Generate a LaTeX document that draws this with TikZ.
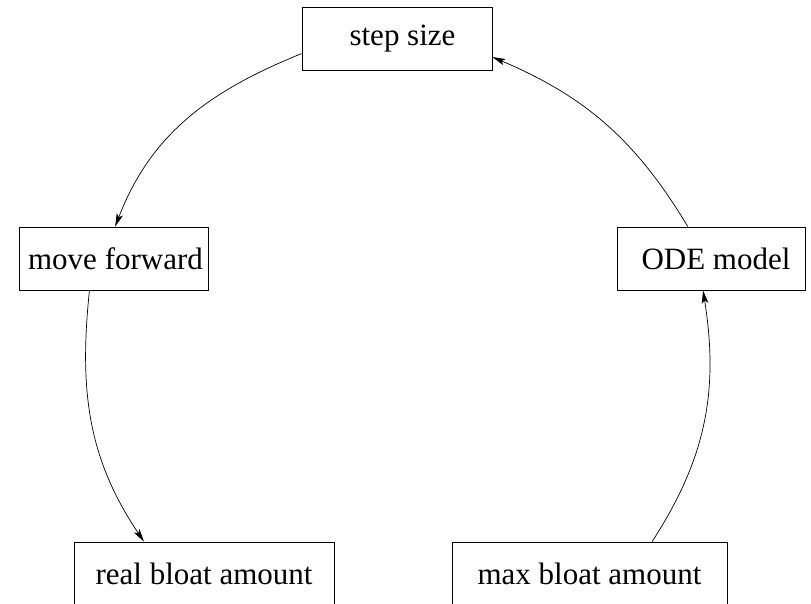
\documentclass[tikz,border=0pt]{standalone}
\usepackage{fontspec}
\setmainfont{Liberation Serif}
\usetikzlibrary{arrows.meta}
\begin{document}
\begin{tikzpicture}[x=1pt,y=1pt,
  box/.style={draw, line width=0.8pt, inner sep=0pt, minimum height=63pt,
    font=\fontsize{31}{37}\selectfont},
  conn/.style={line width=0.7pt, -{Stealth[length=13pt,width=6.5pt,inset=3pt]}}]
\clip (0,0) rectangle (811,603);
\useasboundingbox (0,0) rectangle (811,603);
\node[box, minimum width=190pt] (ss) at (397,564.5) {\hspace{11pt}step size};
\node[box, minimum width=189pt] (mf) at (113.5,344.5) {\hspace{4pt}move forward};
\node[box, minimum width=188pt] (ode) at (711,344.5) {\hspace{10pt}ODE model};
\node[box, minimum width=260pt] (rba) at (204,29.5) {real bloat amount\hspace{10pt}};
\node[box, minimum width=275pt] (mba) at (589.5,29.5) {max bloat amount\hspace{19pt}};
\draw[conn] (ss.189) to[out=202,in=69] (mf.87);
\draw[conn] (mf.233) to[out=264,in=124] (rba.152);
\draw[conn] (mba.27.5) to[out=57,in=279] (ode.256);
\draw[conn] (ode.126) to[out=121,in=337] (ss.349);
\end{tikzpicture}
\end{document}
